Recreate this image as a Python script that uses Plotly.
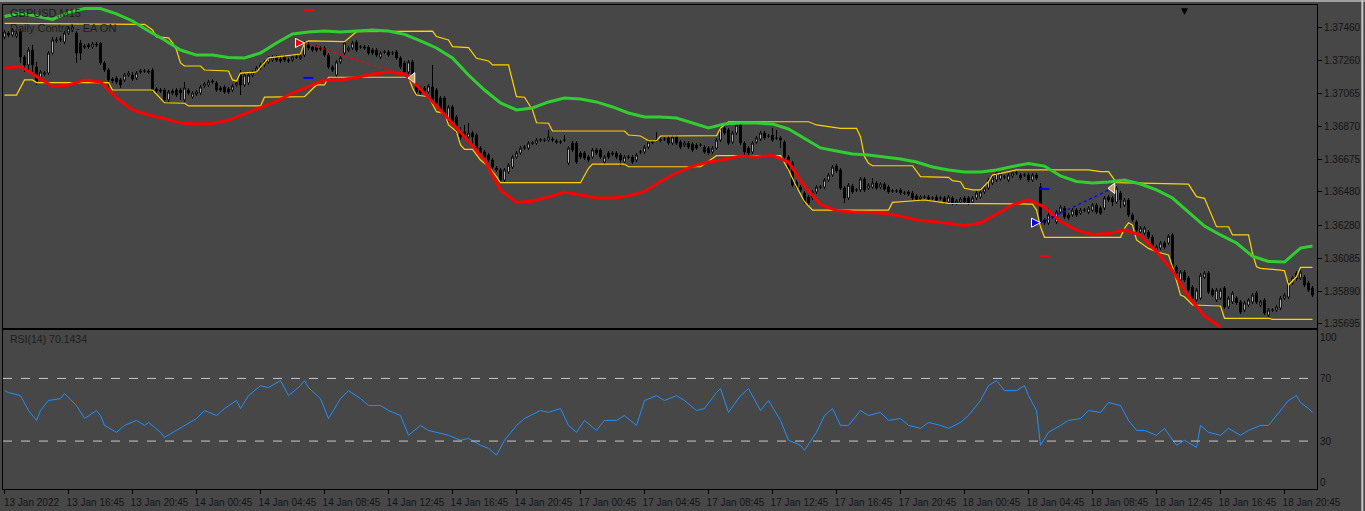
import plotly.graph_objects as go

# ---------------- data ----------------
time_labels = ["13 Jan 2022", "13 Jan 16:45", "13 Jan 20:45", "14 Jan 00:45", "14 Jan 04:45",
               "14 Jan 08:45", "14 Jan 12:45", "14 Jan 16:45", "14 Jan 20:45", "17 Jan 00:45",
               "17 Jan 04:45", "17 Jan 08:45", "17 Jan 12:45", "17 Jan 16:45", "17 Jan 20:45",
               "18 Jan 00:45", "18 Jan 04:45", "18 Jan 08:45", "18 Jan 12:45", "18 Jan 16:45",
               "18 Jan 20:45"]
label_bars = list(range(0, 321, 16))
price_labels = ["1.37460", "1.37260", "1.37065", "1.36870", "1.36675",
                "1.36480", "1.36280", "1.36085", "1.35890", "1.35695"]

opens = [
 1.37402,1.37426,1.37414,1.37408,1.37438,1.37283,1.37236,1.37325,1.37224,1.37164,1.37182,1.37188,1.37307,1.37379,1.37385,1.37373,
 1.37426,1.37444,1.37426,1.37367,1.37349,1.37355,1.37343,1.37361,1.37367,1.37248,1.37206,1.37152,1.37158,1.37147,1.37147,1.37176,
 1.37176,1.37158,1.37194,1.37200,1.37200,1.37206,1.37093,1.37087,1.37087,1.37028,1.37081,1.37087,1.37087,1.37028,1.37087,1.37045,
 1.37063,1.37069,1.37111,1.37117,1.37141,1.37129,1.37099,1.37105,1.37093,1.37087,1.37117,1.37176,1.37117,1.37129,1.37176,1.37200,
 1.37218,1.37236,1.37254,1.37266,1.37283,1.37271,1.37283,1.37266,1.37266,1.37283,1.37277,1.37295,1.37355,1.37343,1.37343,1.37337,
 1.37337,1.37295,1.37224,1.37176,1.37254,1.37307,1.37325,1.37337,1.37373,1.37343,1.37343,1.37343,1.37325,1.37325,1.37283,1.37313,
 1.37313,1.37307,1.37313,1.37278,1.37248,1.37194,1.37254,1.37117,1.37099,1.37099,1.37075,1.37105,1.37087,1.37039,1.37039,1.36908,
 1.36986,1.36926,1.36837,1.36837,1.36807,1.36831,1.36819,1.36741,1.36718,1.36700,1.36670,1.36622,1.36611,1.36551,1.36599,1.36628,
 1.36688,1.36712,1.36741,1.36741,1.36771,1.36771,1.36789,1.36789,1.36789,1.36795,1.36783,1.36777,1.36789,1.36652,1.36771,1.36771,
 1.36712,1.36712,1.36688,1.36688,1.36730,1.36730,1.36658,1.36712,1.36712,1.36712,1.36700,1.36658,1.36688,1.36688,1.36670,1.36718,
 1.36718,1.36747,1.36777,1.36789,1.36789,1.36795,1.36801,1.36771,1.36807,1.36777,1.36759,1.36771,1.36765,1.36759,1.36759,1.36747,
 1.36741,1.36718,1.36741,1.36789,1.36861,1.36849,1.36777,1.36831,1.36878,1.36771,1.36741,1.36718,1.36777,1.36795,1.36831,1.36813,
 1.36819,1.36801,1.36801,1.36777,1.36688,1.36652,1.36539,1.36509,1.36474,1.36450,1.36444,1.36480,1.36509,1.36509,1.36551,1.36581,
 1.36634,1.36611,1.36503,1.36444,1.36515,1.36492,1.36492,1.36557,1.36503,1.36509,1.36533,1.36509,1.36527,1.36509,1.36486,1.36486,
 1.36492,1.36474,1.36480,1.36474,1.36456,1.36438,1.36450,1.36450,1.36444,1.36450,1.36444,1.36444,1.36420,1.36444,1.36414,1.36420,
 1.36444,1.36444,1.36420,1.36444,1.36450,1.36480,1.36503,1.36533,1.36551,1.36557,1.36569,1.36551,1.36575,1.36593,1.36581,1.36581,
 1.36581,1.36551,1.36581,1.36509,1.36313,1.36295,1.36331,1.36301,1.36360,1.36384,1.36343,1.36343,1.36372,1.36354,1.36372,1.36360,
 1.36372,1.36402,1.36384,1.36384,1.36450,1.36444,1.36420,1.36474,1.36402,1.36432,1.36343,1.36301,1.36241,1.36235,1.36241,1.36211,
 1.36134,1.36146,1.36176,1.36176,1.36223,1.36033,1.35956,1.36003,1.35968,1.35914,1.35837,1.35848,1.35973,1.35997,1.35896,1.35837,
 1.35848,1.35908,1.35795,1.35825,1.35848,1.35825,1.35777,1.35807,1.35825,1.35878,1.35807,1.35837,1.35747,1.35777,1.35777,1.35789,
 1.35848,1.35854,1.35938,1.35997,1.35968,1.35973,1.35938,1.35908]

highs = [
 1.37444,1.37438,1.37456,1.37438,1.37450,1.37295,1.37343,1.37355,1.37254,1.37206,1.37200,1.37319,1.37402,1.37402,1.37408,1.37438,
 1.37468,1.37480,1.37438,1.37385,1.37361,1.37367,1.37373,1.37373,1.37373,1.37260,1.37218,1.37164,1.37170,1.37158,1.37188,1.37200,
 1.37194,1.37200,1.37212,1.37212,1.37212,1.37218,1.37105,1.37099,1.37099,1.37087,1.37093,1.37099,1.37099,1.37135,1.37099,1.37081,
 1.37087,1.37117,1.37135,1.37147,1.37152,1.37141,1.37111,1.37117,1.37105,1.37123,1.37141,1.37206,1.37188,1.37188,1.37206,1.37230,
 1.37248,1.37266,1.37289,1.37295,1.37295,1.37283,1.37295,1.37277,1.37295,1.37295,1.37301,1.37379,1.37373,1.37355,1.37355,1.37349,
 1.37349,1.37307,1.37236,1.37266,1.37289,1.37379,1.37349,1.37379,1.37385,1.37355,1.37355,1.37355,1.37337,1.37337,1.37319,1.37325,
 1.37325,1.37319,1.37325,1.37289,1.37260,1.37266,1.37266,1.37129,1.37111,1.37111,1.37123,1.37236,1.37099,1.37051,1.37051,1.36998,
 1.36998,1.36938,1.36866,1.36878,1.36890,1.36843,1.36831,1.36753,1.36730,1.36712,1.36682,1.36634,1.36622,1.36622,1.36652,1.36700,
 1.36724,1.36753,1.36759,1.36783,1.36783,1.36801,1.36801,1.36801,1.36849,1.36807,1.36795,1.36789,1.36819,1.36753,1.36783,1.36783,
 1.36724,1.36724,1.36700,1.36741,1.36741,1.36741,1.36700,1.36724,1.36724,1.36724,1.36712,1.36700,1.36700,1.36700,1.36712,1.36730,
 1.36759,1.36789,1.36789,1.36837,1.36801,1.36807,1.36813,1.36819,1.36819,1.36789,1.36783,1.36783,1.36777,1.36771,1.36771,1.36759,
 1.36753,1.36753,1.36801,1.36872,1.36872,1.36861,1.36843,1.36890,1.36890,1.36783,1.36753,1.36783,1.36813,1.36843,1.36843,1.36825,
 1.36861,1.36849,1.36813,1.36789,1.36700,1.36664,1.36551,1.36521,1.36486,1.36462,1.36492,1.36521,1.36521,1.36563,1.36593,1.36640,
 1.36646,1.36622,1.36515,1.36533,1.36527,1.36503,1.36569,1.36569,1.36533,1.36563,1.36545,1.36539,1.36539,1.36521,1.36497,1.36497,
 1.36503,1.36486,1.36492,1.36486,1.36468,1.36462,1.36462,1.36462,1.36456,1.36462,1.36456,1.36456,1.36462,1.36456,1.36438,1.36450,
 1.36456,1.36456,1.36456,1.36486,1.36492,1.36515,1.36563,1.36575,1.36605,1.36599,1.36581,1.36593,1.36605,1.36605,1.36593,1.36593,
 1.36593,1.36593,1.36593,1.36533,1.36325,1.36384,1.36343,1.36372,1.36402,1.36396,1.36355,1.36384,1.36384,1.36384,1.36384,1.36396,
 1.36414,1.36414,1.36396,1.36456,1.36462,1.36456,1.36515,1.36486,1.36444,1.36444,1.36355,1.36313,1.36277,1.36277,1.36253,1.36223,
 1.36164,1.36188,1.36188,1.36229,1.36235,1.36045,1.36015,1.36015,1.35980,1.35926,1.35908,1.35997,1.36009,1.36009,1.35908,1.35908,
 1.35908,1.35920,1.35860,1.35890,1.35860,1.35837,1.35831,1.35848,1.35878,1.35890,1.35837,1.35848,1.35789,1.35789,1.35807,1.35860,
 1.35878,1.35950,1.35980,1.36009,1.36015,1.35985,1.35950,1.35920]

lows = [
 1.37390,1.37402,1.37402,1.37396,1.37248,1.37194,1.37194,1.37176,1.37117,1.37147,1.37170,1.37176,1.37295,1.37367,1.37373,1.37361,
 1.37414,1.37432,1.37248,1.37266,1.37331,1.37331,1.37331,1.37343,1.37236,1.37194,1.37105,1.37129,1.37123,1.37099,1.37135,1.37164,
 1.37141,1.37147,1.37182,1.37188,1.37182,1.37075,1.37069,1.37069,1.37016,1.37016,1.37057,1.37045,1.37028,1.37016,1.37057,1.37034,
 1.37051,1.37057,1.37099,1.37105,1.37123,1.37075,1.37075,1.37063,1.37063,1.37075,1.37105,1.37057,1.37105,1.37117,1.37164,1.37188,
 1.37206,1.37224,1.37242,1.37254,1.37254,1.37248,1.37254,1.37248,1.37254,1.37271,1.37266,1.37283,1.37325,1.37313,1.37313,1.37319,
 1.37283,1.37212,1.37194,1.37164,1.37242,1.37295,1.37313,1.37325,1.37313,1.37331,1.37325,1.37295,1.37295,1.37283,1.37271,1.37301,
 1.37283,1.37295,1.37266,1.37212,1.37182,1.37182,1.37147,1.37063,1.37057,1.37057,1.37063,1.37016,1.36998,1.36956,1.36926,1.36896,
 1.36878,1.36825,1.36789,1.36795,1.36795,1.36759,1.36730,1.36700,1.36676,1.36658,1.36617,1.36599,1.36533,1.36539,1.36587,1.36617,
 1.36676,1.36700,1.36730,1.36730,1.36759,1.36759,1.36777,1.36777,1.36777,1.36777,1.36765,1.36765,1.36777,1.36640,1.36718,1.36646,
 1.36676,1.36670,1.36658,1.36676,1.36700,1.36676,1.36646,1.36676,1.36694,1.36676,1.36634,1.36646,1.36676,1.36646,1.36658,1.36706,
 1.36706,1.36735,1.36765,1.36777,1.36777,1.36783,1.36759,1.36759,1.36759,1.36735,1.36747,1.36735,1.36718,1.36730,1.36747,1.36706,
 1.36700,1.36706,1.36730,1.36777,1.36819,1.36759,1.36765,1.36819,1.36759,1.36694,1.36700,1.36706,1.36765,1.36783,1.36789,1.36801,
 1.36777,1.36789,1.36741,1.36676,1.36599,1.36509,1.36497,1.36480,1.36408,1.36402,1.36432,1.36468,1.36497,1.36497,1.36539,1.36569,
 1.36593,1.36492,1.36414,1.36432,1.36468,1.36480,1.36480,1.36480,1.36492,1.36497,1.36492,1.36497,1.36486,1.36468,1.36474,1.36474,
 1.36462,1.36462,1.36456,1.36432,1.36426,1.36426,1.36438,1.36426,1.36432,1.36420,1.36432,1.36408,1.36408,1.36402,1.36402,1.36408,
 1.36408,1.36402,1.36408,1.36432,1.36438,1.36468,1.36492,1.36521,1.36539,1.36545,1.36557,1.36539,1.36563,1.36581,1.36551,1.36569,
 1.36539,1.36539,1.36551,1.36271,1.36283,1.36283,1.36319,1.36289,1.36348,1.36319,1.36313,1.36331,1.36331,1.36343,1.36360,1.36348,
 1.36360,1.36348,1.36343,1.36372,1.36420,1.36396,1.36408,1.36384,1.36390,1.36331,1.36301,1.36241,1.36229,1.36223,1.36200,1.36134,
 1.36122,1.36134,1.36140,1.36164,1.36021,1.35985,1.35944,1.35944,1.35884,1.35837,1.35825,1.35837,1.35962,1.35872,1.35854,1.35825,
 1.35837,1.35783,1.35783,1.35813,1.35807,1.35753,1.35765,1.35795,1.35813,1.35813,1.35795,1.35747,1.35735,1.35765,1.35765,1.35777,
 1.35837,1.35842,1.35926,1.35950,1.35956,1.35914,1.35884,1.35854]

closes = [
 1.37432,1.37414,1.37444,1.37426,1.37283,1.37236,1.37325,1.37236,1.37135,1.37194,1.37188,1.37307,1.37385,1.37385,1.37390,1.37426,
 1.37456,1.37462,1.37307,1.37307,1.37343,1.37343,1.37361,1.37355,1.37248,1.37206,1.37147,1.37141,1.37135,1.37117,1.37176,1.37188,
 1.37152,1.37188,1.37200,1.37200,1.37194,1.37087,1.37081,1.37081,1.37028,1.37075,1.37069,1.37057,1.37069,1.37099,1.37069,1.37069,
 1.37075,1.37105,1.37123,1.37135,1.37135,1.37087,1.37087,1.37075,1.37075,1.37111,1.37129,1.37117,1.37176,1.37176,1.37194,1.37218,
 1.37236,1.37254,1.37278,1.37283,1.37266,1.37260,1.37266,1.37260,1.37283,1.37283,1.37289,1.37367,1.37337,1.37325,1.37325,1.37331,
 1.37295,1.37224,1.37206,1.37254,1.37278,1.37367,1.37337,1.37367,1.37325,1.37343,1.37337,1.37307,1.37307,1.37295,1.37307,1.37313,
 1.37295,1.37307,1.37278,1.37224,1.37194,1.37254,1.37158,1.37075,1.37069,1.37069,1.37111,1.37028,1.37010,1.36968,1.36938,1.36986,
 1.36890,1.36837,1.36807,1.36807,1.36831,1.36807,1.36741,1.36712,1.36688,1.36670,1.36628,1.36611,1.36551,1.36611,1.36640,1.36688,
 1.36712,1.36741,1.36747,1.36771,1.36771,1.36789,1.36789,1.36789,1.36807,1.36789,1.36777,1.36777,1.36789,1.36741,1.36730,1.36658,
 1.36688,1.36682,1.36670,1.36730,1.36712,1.36688,1.36688,1.36688,1.36706,1.36688,1.36670,1.36688,1.36688,1.36658,1.36700,1.36718,
 1.36747,1.36777,1.36777,1.36789,1.36789,1.36795,1.36771,1.36807,1.36771,1.36747,1.36771,1.36747,1.36730,1.36741,1.36759,1.36718,
 1.36712,1.36741,1.36789,1.36861,1.36831,1.36771,1.36831,1.36878,1.36771,1.36718,1.36712,1.36771,1.36801,1.36831,1.36801,1.36813,
 1.36789,1.36801,1.36789,1.36688,1.36611,1.36521,1.36509,1.36492,1.36420,1.36414,1.36480,1.36509,1.36509,1.36551,1.36581,1.36628,
 1.36605,1.36503,1.36444,1.36521,1.36480,1.36492,1.36557,1.36492,1.36521,1.36533,1.36503,1.36527,1.36497,1.36480,1.36486,1.36486,
 1.36474,1.36474,1.36468,1.36444,1.36438,1.36450,1.36450,1.36438,1.36444,1.36432,1.36444,1.36420,1.36450,1.36414,1.36426,1.36438,
 1.36420,1.36414,1.36444,1.36474,1.36480,1.36503,1.36551,1.36563,1.36593,1.36587,1.36569,1.36581,1.36593,1.36593,1.36563,1.36581,
 1.36551,1.36581,1.36563,1.36295,1.36295,1.36343,1.36331,1.36360,1.36390,1.36331,1.36325,1.36372,1.36343,1.36372,1.36372,1.36384,
 1.36402,1.36360,1.36354,1.36444,1.36432,1.36420,1.36503,1.36432,1.36432,1.36343,1.36313,1.36253,1.36265,1.36265,1.36211,1.36146,
 1.36152,1.36176,1.36152,1.36217,1.36033,1.35997,1.36003,1.35956,1.35896,1.35848,1.35896,1.35985,1.35997,1.35884,1.35866,1.35896,
 1.35896,1.35795,1.35848,1.35878,1.35819,1.35765,1.35819,1.35837,1.35866,1.35825,1.35825,1.35759,1.35777,1.35777,1.35795,1.35848,
 1.35866,1.35938,1.35968,1.35962,1.36003,1.35926,1.35896,1.35866]

# smoothed envelope (green upper / red lower), sampled every 4 bars
upper_band_bars = list(range(0, 325, 4)) + [327]
upper_band = [
 1.37525,1.37544,1.37528,1.37507,1.37549,1.37572,1.37572,1.37540,1.37498,1.37438,
 1.37385,1.37325,1.37295,1.37295,1.37281,1.37278,1.37307,1.37367,1.37420,1.37432,
 1.37438,1.37432,1.37438,1.37444,1.37438,1.37418,1.37379,1.37337,1.37278,1.37176,
 1.37087,1.37010,1.36968,1.36980,1.37016,1.37039,1.37033,1.37016,1.36986,1.36950,
 1.36926,1.36926,1.36920,1.36890,1.36861,1.36885,1.36890,1.36890,1.36885,1.36855,
 1.36801,1.36742,1.36724,1.36706,1.36700,1.36688,1.36676,1.36658,1.36629,1.36611,
 1.36599,1.36599,1.36611,1.36632,1.36649,1.36634,1.36575,1.36542,1.36533,1.36539,
 1.36551,1.36527,1.36492,1.36444,1.36361,1.36277,1.36224,1.36176,1.36098,1.36066,
 1.36063,1.36146,1.36158]
lower_band_bars = list(range(0, 305, 4))
lower_band = [
 1.37218,1.37227,1.37168,1.37108,1.37117,1.37147,1.37135,1.37042,1.36968,1.36938,
 1.36917,1.36890,1.36885,1.36888,1.36908,1.36944,1.36980,1.37019,1.37069,1.37108,
 1.37147,1.37147,1.37162,1.37182,1.37194,1.37182,1.37093,1.36992,1.36890,1.36783,
 1.36670,1.36492,1.36417,1.36426,1.36450,1.36480,1.36462,1.36444,1.36444,1.36456,
 1.36483,1.36542,1.36593,1.36634,1.36658,1.36673,1.36694,1.36688,1.36697,1.36658,
 1.36515,1.36405,1.36370,1.36361,1.36358,1.36352,1.36337,1.36313,1.36304,1.36292,
 1.36280,1.36295,1.36349,1.36402,1.36435,1.36390,1.36304,1.36253,1.36227,1.36233,
 1.36253,1.36224,1.36125,1.36012,1.35860,1.35741,1.35676]

# channel lines (yellow)
upper_ch_bars = [0,35,37,38,41,42,43,44,45,49,50,56,57,58,59,63,66,74,75,76,85,88,107,108,111,112,116,118,121,122,
                 126,127,128,130,132,133,136,137,155,156,159,161,163,164,178,179,181,201,203,209,213,214,215,216,217,
                 227,229,236,237,239,240,242,244,246,247,249,253,271,274,276,278,296,298,300,301,303,306,307,311,312,
                 313,314,319,320,321,323,324,327]
upper_ch = [1.37484,1.37478,1.37444,1.37403,1.37397,1.37367,1.37325,1.37248,1.37230,1.37230,
            1.37206,1.37200,1.37147,1.37141,1.37188,1.37194,1.37278,1.37301,1.37367,1.37379,
            1.37375,1.37434,1.37438,1.37405,1.37385,1.37345,1.37339,1.37276,1.37260,1.37236,
            1.37236,1.37147,1.37047,1.37044,1.36968,1.36892,1.36889,1.36843,1.36843,1.36819,
            1.36813,1.36785,1.36785,1.36813,1.36815,1.36861,1.36898,1.36898,1.36879,1.36859,
            1.36859,1.36809,1.36690,1.36651,1.36636,1.36636,1.36571,1.36567,1.36547,1.36541,
            1.36502,1.36492,1.36492,1.36541,1.36581,1.36591,1.36611,1.36611,1.36601,1.36601,
            1.36535,1.36527,1.36452,1.36442,1.36383,1.36273,1.36273,1.36224,1.36224,1.36115,
            1.36035,1.36025,1.36015,1.36011,1.35926,1.35975,1.36031,1.36031]
lower_ch_bars = [0,3,5,7,8,26,27,37,40,45,46,64,65,75,78,80,81,101,102,103,106,108,110,111,113,114,115,117,119,121,
                 123,124,144,146,147,155,156,174,178,194,196,198,200,202,221,222,230,236,257,258,259,260,279,280,281,
                 282,283,286,288,291,292,294,295,297,304,305,316,317,327]
lower_ch = [1.37057,1.37057,1.37147,1.37147,1.37131,1.37131,1.37087,1.37087,1.37011,1.37008,
            1.36992,1.36992,1.37044,1.37047,1.37117,1.37117,1.37163,1.37163,1.37099,1.37057,
            1.37047,1.36958,1.36948,1.36879,1.36839,1.36760,1.36734,1.36734,1.36670,1.36630,
            1.36571,1.36535,1.36535,1.36621,1.36646,1.36646,1.36630,1.36630,1.36696,1.36696,
            1.36611,1.36511,1.36422,1.36372,1.36372,1.36418,1.36432,1.36412,1.36408,1.36372,
            1.36273,1.36210,1.36210,1.36263,1.36297,1.36283,1.36194,1.36144,1.36124,1.36105,
            1.36035,1.35866,1.35856,1.35807,1.35801,1.35728,1.35728,1.35722,1.35722]

# trades
trade_open_bars = [75, 259]
trade_open_prices = [1.37367, 1.36297]
trade_close_bars = [102, 277]
trade_close_prices = [1.37159, 1.36502]
trade_colors = ["#FF0000", "#0000FF"]
tp_bars = [76, 260]
tp_prices = [1.37159, 1.36098]
tp_colors = ["#0000FF", "#FF0000"]
sl_bars = [76, 260]
sl_prices = [1.37563, 1.36498]
sl_colors = ["#FF0000", "#0000FF"]

# RSI(14)
rsi_bars = [0,1,4,6,8,9,11,14,15,18,20,23,24,25,28,29,30,33,35,36,39,40,43,45,48,50,53,55,58,59,61,64,66,69,71,74,75,76,
            79,81,84,86,89,91,94,96,99,101,104,106,109,111,114,116,119,121,123,125,128,130,134,136,139,141,143,145,148,
            150,153,155,158,160,163,165,168,170,173,175,178,179,181,184,186,189,191,194,196,199,200,203,205,207,209,211,
            214,216,219,221,224,226,229,231,234,236,239,241,244,246,248,250,253,255,256,258,259,261,264,266,269,271,274,
            276,279,281,283,285,288,290,293,295,298,299,301,304,306,309,311,314,316,319,321,323,324,326,327]
rsi_values = [62.2,61.0,59.0,49.5,43.2,49.5,55.9,57.1,60.3,52.7,44.4,49.5,46.3,40.0,35.6,38.1,40.0,43.2,40.0,41.9,35.6,32.4,
              36.8,40.0,44.4,49.5,46.3,50.8,55.9,50.8,59.0,65.4,64.1,68.6,59.0,65.4,68.6,64.1,57.1,44.4,57.1,62.2,57.1,52.7,
              52.7,49.5,46.3,33.7,40.0,36.8,34.9,33.7,30.5,31.7,27.3,25.4,21.0,30.5,40.0,44.4,49.5,48.3,50.8,40.0,35.6,43.2,
              36.8,43.2,43.2,46.3,40.0,55.9,59.0,55.9,59.0,55.9,49.5,50.8,61.0,63.5,48.3,59.0,63.5,49.5,55.9,43.2,30.5,27.3,
              24.1,35.6,46.3,50.8,40.0,40.0,49.5,46.3,48.3,43.2,44.4,40.0,38.1,41.9,40.0,38.1,41.9,46.3,55.9,65.4,68.6,62.2,
              62.2,65.4,59.0,49.5,27.3,35.6,40.0,43.2,44.4,49.5,48.3,54.6,52.7,43.2,36.8,36.8,33.7,38.1,27.3,30.5,26.0,40.0,
              35.6,33.7,38.1,33.7,36.8,40.0,40.0,49.5,55.9,59.0,54.6,50.8,48.3]
rsi_levels = [70, 30]
rsi_tick_vals = [96.4, 70, 30, 3.8]
rsi_tick_text = ["100", "70", "30", "0"]

# ---------------- figure ----------------
BG = "#474747"
TXT = "#141414"
FONT = "Liberation Sans"
bars = list(range(len(closes)))

fig = go.Figure()
fig.add_trace(go.Candlestick(
    x=bars, open=opens, high=highs, low=lows, close=closes, xaxis="x2", yaxis="y",
    increasing=dict(line=dict(color="#000000", width=1), fillcolor="#FFFFFF"),
    decreasing=dict(line=dict(color="#000000", width=1), fillcolor="#000000"),
    whiskerwidth=0, showlegend=False, hoverinfo="skip"))

for xs, ys in [(upper_ch_bars, upper_ch), (lower_ch_bars, lower_ch)]:
    fig.add_trace(go.Scatter(x=xs, y=ys, mode="lines", xaxis="x2", yaxis="y",
                             line=dict(color="#FFD200", width=1.2), hoverinfo="skip"))
fig.add_trace(go.Scatter(x=upper_band_bars, y=upper_band, mode="lines", xaxis="x2", yaxis="y",
                         line=dict(color="#32CD32", width=3), hoverinfo="skip"))
fig.add_trace(go.Scatter(x=lower_band_bars, y=lower_band, mode="lines", xaxis="x2", yaxis="y",
                         line=dict(color="#FF0000", width=3), hoverinfo="skip"))

for i in range(len(trade_open_bars)):
    fig.add_trace(go.Scatter(x=[trade_open_bars[i], trade_close_bars[i]],
                             y=[trade_open_prices[i], trade_close_prices[i]],
                             mode="lines", xaxis="x2", yaxis="y",
                             line=dict(color=trade_colors[i], width=1.3, dash="dot"), hoverinfo="skip"))
    fig.add_trace(go.Scatter(x=[trade_open_bars[i]], y=[trade_open_prices[i]], mode="markers",
                             xaxis="x2", yaxis="y",
                             marker=dict(symbol="arrow-right", size=9, color=trade_colors[i],
                                         line=dict(color="#FFFFFF", width=1)), hoverinfo="skip"))
    fig.add_trace(go.Scatter(x=[trade_close_bars[i]], y=[trade_close_prices[i]], mode="markers",
                             xaxis="x2", yaxis="y",
                             marker=dict(symbol="triangle-left", size=9, color="#D4A15A",
                                         line=dict(color="#FFFFFF", width=1)), hoverinfo="skip"))
for bx, py, c in list(zip(tp_bars, tp_prices, tp_colors)) + list(zip(sl_bars, sl_prices, sl_colors)):
    fig.add_trace(go.Scatter(x=[bx], y=[py], mode="markers", xaxis="x2", yaxis="y",
                             marker=dict(symbol="line-ew", size=7, line=dict(color=c, width=2)),
                             hoverinfo="skip"))

fig.add_trace(go.Scatter(x=rsi_bars, y=rsi_values, mode="lines", xaxis="x", yaxis="y2",
                         line=dict(color="#1E90FF", width=1), hoverinfo="skip"))

shapes = []
for lv in rsi_levels:
    shapes.append(dict(type="line", xref="x domain", yref="y2", x0=0, x1=1, y0=lv, y1=lv,
                       line=dict(color="#C8C8C8", width=1, dash="dash")))
# window borders
shapes.append(dict(type="line", xref="paper", yref="paper", x0=-0.01, x1=1.04, y0=1.0085, y1=1.0085,
                   line=dict(color="#A0A0A0", width=2)))
shapes.append(dict(type="line", xref="paper", yref="paper", x0=1.0345, x1=1.0345, y0=-0.05, y1=1.02,
                   line=dict(color="#C8C8C8", width=2)))

axis_common = dict(showgrid=False, zeroline=False, showline=True, linecolor="#000000", linewidth=1, mirror=True)
tickfont = dict(family=FONT, size=10, color=TXT)

fig.update_layout(
    width=1365, height=511, margin=dict(l=3, r=48, t=5, b=22),
    paper_bgcolor=BG, plot_bgcolor=BG, showlegend=False, boxgap=0.4,
    xaxis=dict(domain=[0, 1], anchor="y2", range=[-0.375, 328.125], tickvals=label_bars, ticktext=time_labels,
               ticks="outside", ticklen=4, tickcolor="#000000", tickfont=tickfont, ticklabelshift=27,
               **axis_common),
    xaxis2=dict(domain=[0, 1], anchor="y", matches="x", showticklabels=False,
                rangeslider=dict(visible=False), **axis_common),
    yaxis=dict(domain=[0.3326, 1], anchor="x2", side="right", range=[1.35670, 1.37593],
               tickvals=[float(t) for t in price_labels], ticktext=price_labels,
               ticks="outside", ticklen=4, tickcolor="#000000", tickfont=tickfont, **axis_common),
    yaxis2=dict(domain=[0, 0.3275], anchor="x", side="right", range=[-0.6, 100.6],
                tickvals=rsi_tick_vals, ticktext=rsi_tick_text, ticks="", tickfont=tickfont, **axis_common),
    shapes=shapes,
    annotations=[
        dict(text="GBPUSD,M15", xref="paper", yref="paper", x=0.0038, y=0.9835, xanchor="left",
             yanchor="middle", showarrow=False, font=dict(family=FONT, size=11, color="#1e1e1e")),
        dict(text="Daily Control - EA ON", xref="paper", yref="paper", x=0.0038, y=0.953, xanchor="left",
             yanchor="middle", showarrow=False, font=dict(family=FONT, size=11, color="#1e1e1e")),
        dict(text="RSI(14) 70.1434", xref="paper", yref="paper", x=0.0038, y=0.3099, xanchor="left",
             yanchor="middle", showarrow=False, font=dict(family=FONT, size=10.5, color="#1e1e1e")),
        dict(text="▼", xref="paper", yref="paper", x=0.8988, y=1.003, xanchor="center",
             yanchor="top", showarrow=False, font=dict(family="DejaVu Sans", size=9, color="#000000")),
    ],
)

fig.write_html("out.html")
